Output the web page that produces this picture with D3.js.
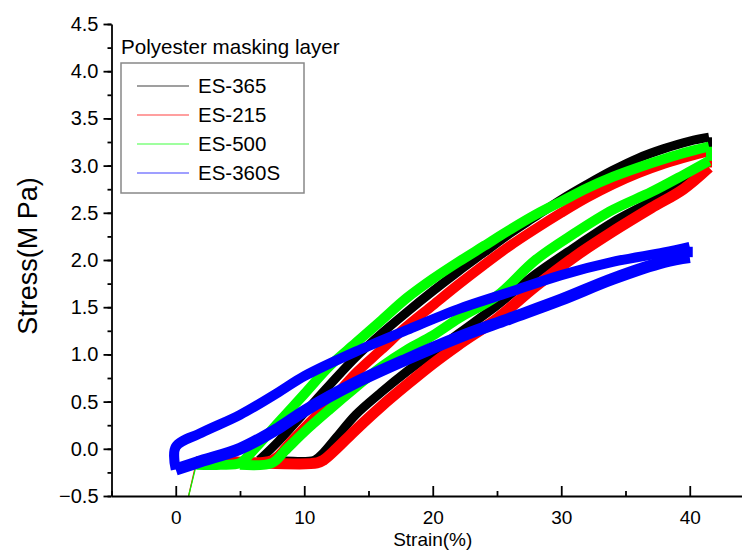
<!DOCTYPE html>
<html>
<head>
<meta charset="utf-8">
<script src="https://cdn.jsdelivr.net/npm/d3@7"></script>
<style>
  html, body { margin: 0; padding: 0; background: #fff; }
  svg { display: block; font-family: "Liberation Sans", Arial, sans-serif; }
</style>
</head>
<body>
<svg id="chart" width="742" height="550"></svg>
<script>
// ---------------- DATA (strain %, stress MPa) ----------------
const seriesNames = ["ES-365", "ES-215", "ES-500", "ES-360S"];
const seriesColors = ["#000000", "#ff0000", "#00ff00", "#0000ff"];

const xTickValues = [0, 10, 20, 30, 40];
const yTickValues = [-0.5, 0.0, 0.5, 1.0, 1.5, 2.0, 2.5, 3.0, 3.5, 4.0, 4.5];

// ES-365 (black)
const es365Loading = [[6.5,-0.12],[8,0.08],[10,0.38],[12,0.68],[14,0.97],[16,1.22],[18,1.45],[20,1.67],[22,1.88],[24,2.08],[26,2.28],[28,2.46],[30,2.64],[32,2.8],[34,2.95],[36,3.08],[38,3.18],[40,3.26],[41.5,3.3]];
const es365Unloading = [[41.5,3.05],[39.5,2.82],[37,2.62],[34,2.4],[31,2.13],[28,1.85],[25,1.52],[22,1.22],[20,1.02],[18,0.82],[16,0.6],[14,0.36],[12.5,0.12],[11.5,-0.04],[10.8,-0.12],[8.5,-0.13],[6.5,-0.12]];

// ES-215 (red)
const es215Initial = [[1.0,-0.5],[1.6,-0.14]];
const es215Loading = [[1.6,-0.13],[4,-0.13],[7.5,-0.12],[9,0.08],[10,0.22],[12,0.5],[14,0.8],[16,1.05],[18,1.3],[20,1.52],[22,1.74],[24,1.95],[26,2.15],[28,2.33],[30,2.5],[32,2.66],[34,2.8],[36,2.92],[38,3.02],[40,3.1],[41.5,3.15]];
const es215Unloading = [[41.5,2.98],[39.5,2.75],[37,2.55],[34,2.3],[31,2.03],[28,1.72],[25,1.38],[22,1.1],[20,0.9],[18,0.68],[16,0.45],[14,0.2],[12.5,0.0],[11.5,-0.12],[11,-0.15],[7,-0.15]];

// ES-500 (green)
const es500Initial = [[1.0,-0.5],[1.6,-0.17]];
const es500Loading = [[1.6,-0.17],[3.5,-0.17],[5,-0.15],[6,-0.02],[8,0.28],[10,0.58],[12,0.88],[14,1.12],[16,1.36],[18,1.6],[20,1.8],[22,1.98],[24,2.15],[26,2.32],[28,2.48],[30,2.62],[32,2.76],[34,2.88],[36,2.98],[38,3.07],[40,3.15],[41.5,3.2]];
const es500Unloading = [[41.5,3.05],[39.5,2.9],[37,2.72],[34,2.53],[31,2.28],[28,2.0],[25,1.62],[22,1.38],[20,1.2],[18,1.05],[16,0.87],[14,0.65],[12,0.42],[10,0.18],[8.5,-0.02],[7.5,-0.15],[5,-0.17]];

// ES-360S (blue)
const es360sLoading = [[0,-0.22],[0,0.02],[2,0.17],[5,0.36],[8,0.6],[10,0.77],[14,1.03],[18,1.26],[22,1.48],[26,1.66],[30,1.84],[34,1.98],[38,2.08],[40,2.14]];
const es360sUnloading = [[40,2.03],[38,1.98],[34,1.8],[30,1.58],[26,1.38],[22,1.18],[18,0.95],[14,0.7],[10,0.4],[8,0.22],[5,0.0],[2,-0.13],[0,-0.22]];

// ---------------- CHART ----------------
const svg = d3.select("#chart");
const x = d3.scaleLinear().domain([-5, 45]).range([111.5, 754]);
const y = d3.scaleLinear().domain([-0.5, 4.5]).range([496, 24]);

const plot = svg.append("g");
const line = d3.line().x(d => x(d[0])).y(d => y(d[1])).curve(d3.curveCatmullRom.alpha(0.5));
const straight = d3.line().x(d => x(d[0])).y(d => y(d[1]));

const loops = [
  {loading: es365Loading, unloading: es365Unloading, initial: null, color: seriesColors[0], w: [9, 9]},
  {loading: es215Loading, unloading: es215Unloading, initial: es215Initial, color: seriesColors[1], w: [10, 11]},
  {loading: es500Loading, unloading: es500Unloading, initial: es500Initial, color: seriesColors[2], w: [10, 10]},
  {loading: es360sLoading, unloading: es360sUnloading, initial: null, color: seriesColors[3], w: [10, 12]}
];

loops.forEach(s => {
  if (s.initial) {
    plot.append("path").attr("d", straight(s.initial))
      .attr("fill", "none").attr("stroke", s.color).attr("stroke-width", 1.2);
  }
  [s.loading, s.unloading].forEach((arr, k) => {
    plot.append("path").attr("d", line(arr))
      .attr("fill", "none").attr("stroke", s.color)
      .attr("stroke-width", s.w[k]).attr("stroke-linejoin", "round").attr("stroke-linecap", "butt");
  });
  const a = s.loading[s.loading.length - 1], b = s.unloading[0];
  plot.append("path").attr("d", straight([a, b]))
    .attr("stroke", s.color).attr("stroke-width", 6).attr("fill", "none");
});

// axes
const yMinor = d3.range(-0.5, 4.51, 0.25);
svg.append("g").attr("transform", `translate(${x(-5)},0)`)
  .call(d3.axisLeft(y).tickValues(yMinor).tickSize(4).tickFormat(""))
  .call(g => g.select(".domain").remove());
const yAxis = svg.append("g").attr("transform", `translate(${x(-5)},0)`)
  .call(d3.axisLeft(y).tickValues(yTickValues).tickSize(8).tickPadding(5).tickSizeOuter(0).tickFormat(d3.format(".1f")));
yAxis.selectAll("text").attr("font-size", 20).attr("font-family", "Liberation Sans, Arial, sans-serif").attr("fill", "#000");

svg.append("g").attr("transform", `translate(0,${y(-0.5)})`)
  .call(d3.axisBottom(x).tickValues([-5, 5, 15, 25, 35, 45]).tickSize(-5).tickFormat(""))
  .call(g => g.select(".domain").remove());
const xAxis = svg.append("g").attr("transform", `translate(0,${y(-0.5)})`)
  .call(d3.axisBottom(x).tickValues(xTickValues).tickSize(-10).tickPadding(15).tickSizeOuter(0).tickFormat(d3.format("d")));
xAxis.selectAll("text").attr("font-size", 19).attr("font-family", "Liberation Sans, Arial, sans-serif").attr("fill", "#000");

svg.selectAll(".domain, .tick line").attr("stroke", "#000").attr("stroke-width", 1.8);

// axis titles
svg.append("text").attr("x", x(20)).attr("y", 546).attr("text-anchor", "middle")
  .attr("font-size", 19).text("Strain(%)");
svg.append("text").attr("transform", `translate(37,256) rotate(-90)`).attr("text-anchor", "middle")
  .attr("font-size", 27).text("Stress(M Pa)");

// legend
const lg = svg.append("g");
lg.append("text").attr("x", 121).attr("y", 54).attr("font-size", 20.6).text("Polyester masking layer");
lg.append("rect").attr("x", 121).attr("y", 63).attr("width", 183).attr("height", 130)
  .attr("fill", "#fff").attr("stroke", "#888").attr("stroke-width", 1.5);
seriesNames.forEach((n, i) => {
  const yy = 86 + i * 29;
  lg.append("line").attr("x1", 137).attr("x2", 189).attr("y1", yy).attr("y2", yy)
    .attr("stroke", seriesColors[i]).attr("stroke-width", 1.5).attr("stroke-opacity", 0.5);
  lg.append("text").attr("x", 198).attr("y", yy + 7).attr("font-size", 20.5).text(n);
});
</script>
</body>
</html>
